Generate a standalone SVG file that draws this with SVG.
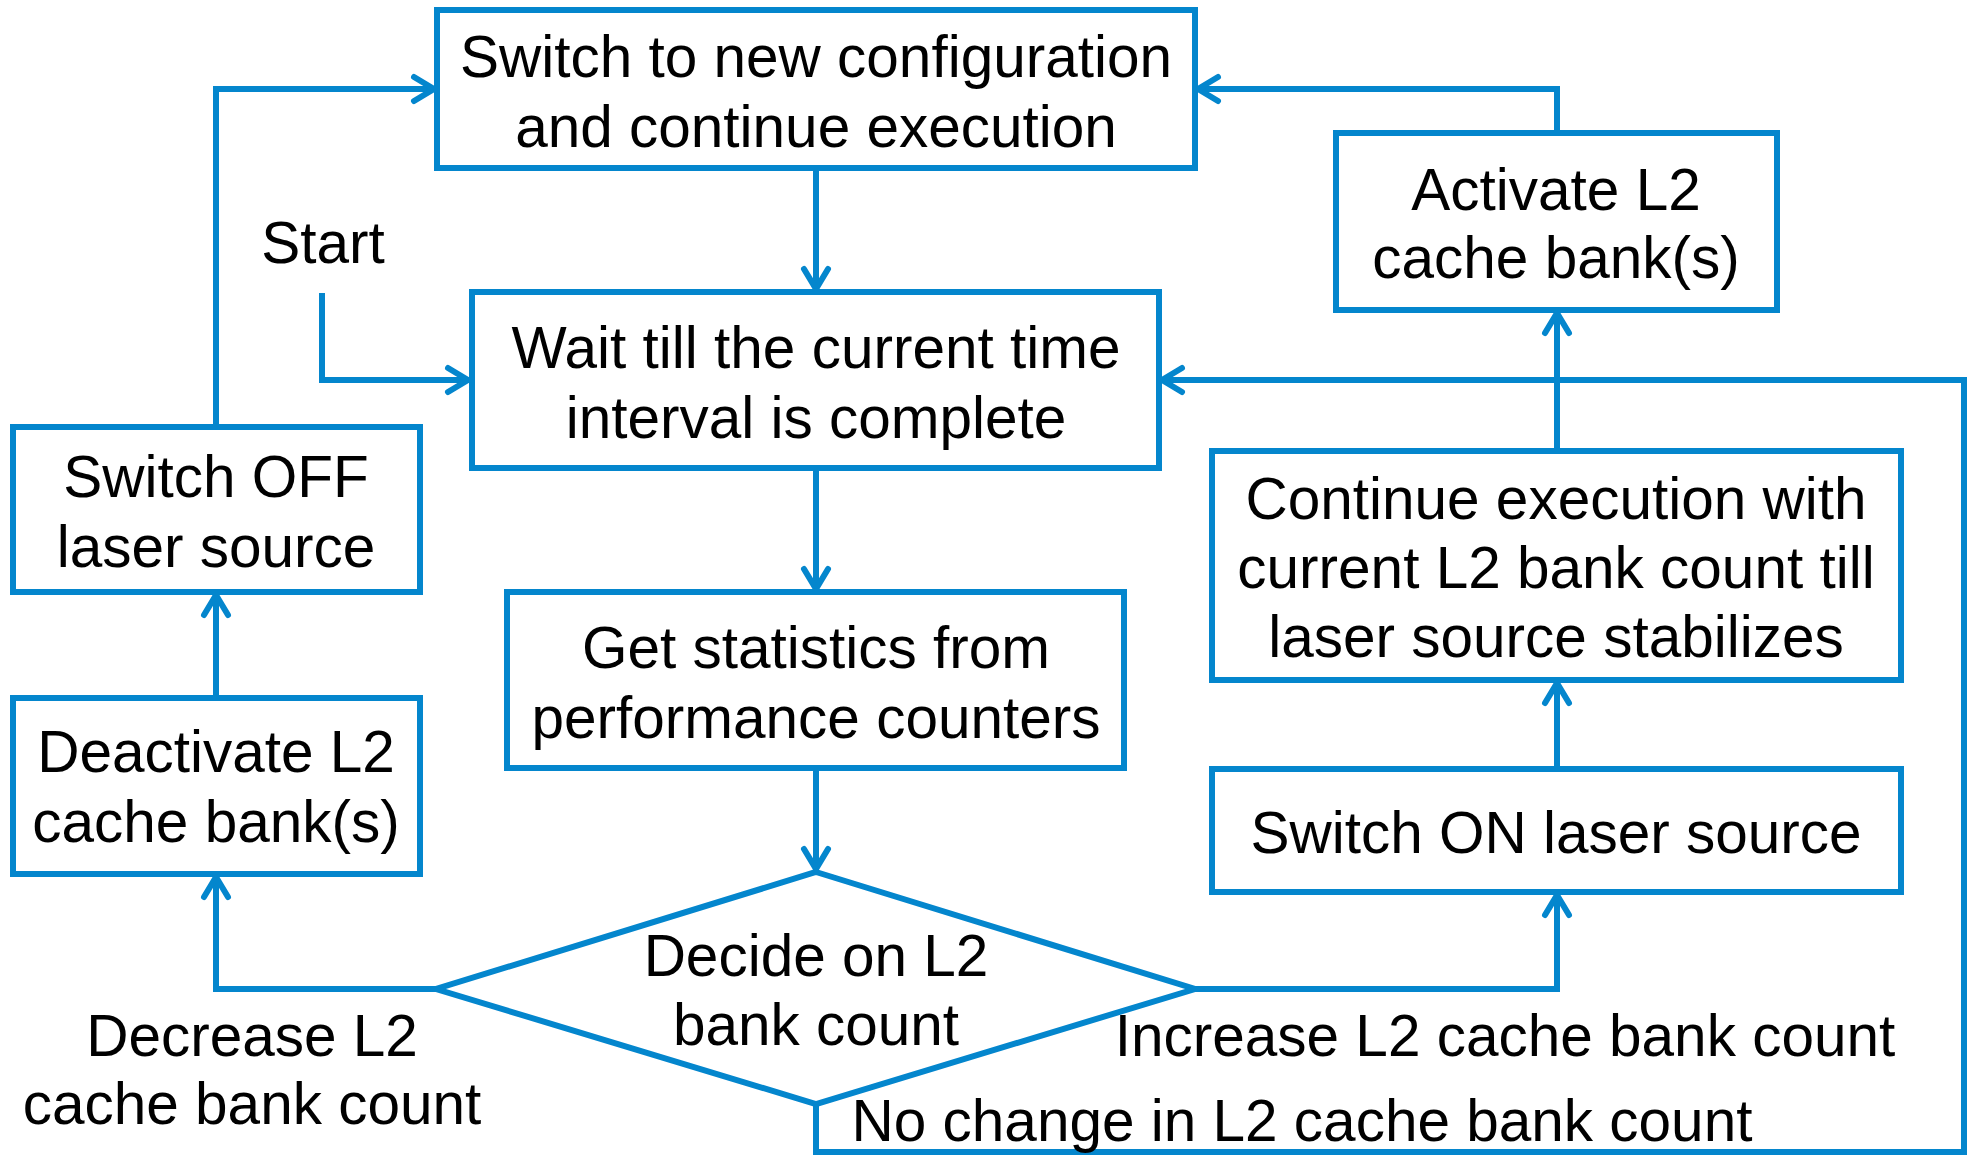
<svg xmlns="http://www.w3.org/2000/svg" width="1973" height="1156" viewBox="0 0 1973 1156">
  <style>
    .box { fill: #ffffff; stroke: #0486CD; stroke-width: 6; }
    .conn { fill: none; stroke: #0486CD; stroke-width: 6; stroke-linejoin: miter; marker-end: url(#arr); }
    text { font-family: "Liberation Sans", Arial, sans-serif; font-size: 58.5px; fill: #000000; text-anchor: middle; }
  </style>
  <defs>
    <marker id="arr" markerUnits="userSpaceOnUse" viewBox="-30 -20 40 40" markerWidth="40" markerHeight="40" refX="0" refY="0" orient="auto" overflow="visible">
      <path d="M-20,-12 L0,0 L-20,12" fill="none" stroke="#0486CD" stroke-width="6" stroke-linecap="round" stroke-linejoin="round"/>
    </marker>
  </defs>
  <rect width="1973" height="1156" fill="#ffffff"/>

  <!-- connectors -->
  <g id="connectors">
    <path class="conn" d="M816,168 V289"/>
    <path class="conn" d="M816,468 V589"/>
    <path class="conn" d="M816,768 V869"/>
    <path class="conn" d="M322,293 V380 H468"/>
    <path class="conn" d="M436,989 H216 V877"/>
    <path class="conn" d="M216,698 V595"/>
    <path class="conn" d="M216,427 V89 H434"/>
    <path class="conn" d="M1195,989 H1557 V895"/>
    <path class="conn" d="M1557,769 V683"/>
    <path class="conn" d="M1557,451 V313"/>
    <path class="conn" d="M1557,133 V89 H1198"/>
    <path class="conn" d="M816,1104 V1152 H1964 V380 H1162"/>
  </g>

  <!-- edge labels -->
  <g id="labels">
    <text x="323" y="263">Start</text>
    <text x="252" y="1056">Decrease L2</text>
    <text x="252" y="1124">cache bank count</text>
    <text x="1505" y="1056">Increase L2 cache bank count</text>
    <text x="1302" y="1141">No change in L2 cache bank count</text>
  </g>

  <g id="switch-config">
    <rect class="box" x="437" y="10" width="758" height="158"/>
    <text x="816" y="77">Switch to new configuration</text>
    <text x="816" y="147">and continue execution</text>
  </g>

  <g id="wait-interval">
    <rect class="box" x="472" y="292" width="687" height="176"/>
    <text x="816" y="368">Wait till the current time</text>
    <text x="816" y="438">interval is complete</text>
  </g>

  <g id="get-statistics">
    <rect class="box" x="507" y="592" width="617" height="176"/>
    <text x="816" y="668">Get statistics from</text>
    <text x="816" y="738">performance counters</text>
  </g>

  <g id="decide">
    <polygon class="box" points="816,872 1195,989 816,1104 436,989"/>
    <text x="816" y="976">Decide on L2</text>
    <text x="816" y="1045">bank count</text>
  </g>

  <g id="switch-off">
    <rect class="box" x="13" y="427" width="407" height="165"/>
    <text x="216" y="497">Switch OFF</text>
    <text x="216" y="567">laser source</text>
  </g>

  <g id="deactivate">
    <rect class="box" x="13" y="698" width="407" height="176"/>
    <text x="216" y="772">Deactivate L2</text>
    <text x="216" y="842">cache bank(s)</text>
  </g>

  <g id="activate">
    <rect class="box" x="1336" y="133" width="441" height="177"/>
    <text x="1556" y="210">Activate L2</text>
    <text x="1556" y="278">cache bank(s)</text>
  </g>

  <g id="continue">
    <rect class="box" x="1212" y="451" width="689" height="229"/>
    <text x="1556" y="519">Continue execution with</text>
    <text x="1556" y="588">current L2 bank count till</text>
    <text x="1556" y="657">laser source stabilizes</text>
  </g>

  <g id="switch-on">
    <rect class="box" x="1212" y="769" width="689" height="123"/>
    <text x="1556" y="853">Switch ON laser source</text>
  </g>
</svg>
